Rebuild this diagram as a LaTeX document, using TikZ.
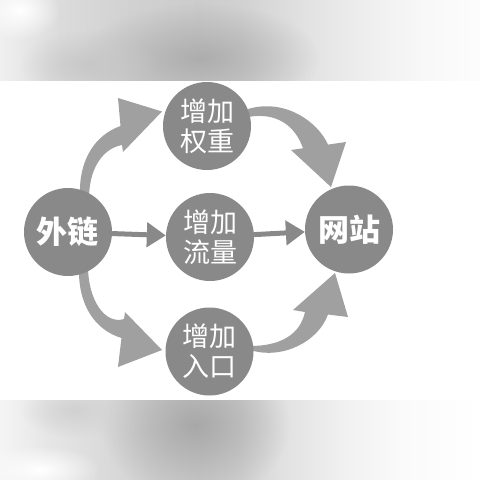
\documentclass[tikz,border=0pt]{standalone}
\usepackage{fontspec}
\newfontfamily\cjk{Noto Sans CJK SC}
\usetikzlibrary{arrows.meta,fadings}
\tikzfading[name=myfade, inner color=transparent!0, outer color=transparent!100]
\definecolor{circ}{RGB}{137,137,137}
\definecolor{arrc}{RGB}{160,160,160}
\tikzset{
  ball/.style={circle, fill=circ, minimum size=88pt, inner sep=0pt, text=white, align=center},
  lighttext/.style={font=\cjk\fontsize{27pt}{30pt}\selectfont},
  heavytext/.style={font=\cjk\bfseries\fontsize{31pt}{31pt}\selectfont},
  straightarrow/.style={draw=circ, line width=5pt, -{Triangle[length=19pt,width=24pt]}},
  swoosh/.style={fill=arrc},
  blob/.style={path fading=myfade}
}
\begin{document}
\begin{tikzpicture}[x=1pt,y=-1pt]
\useasboundingbox (0,0) rectangle (480,480);
\fill[white] (0,0) rectangle (480,480);
% blurred top band
\begin{scope}
\clip (0,0) rectangle (480,80);
\foreach \xa/\xb/\ca/\cb in {0/60/6/14, 60/130/14/18, 130/200/18/20, 200/240/20/18, 240/300/18/12, 300/360/12/7, 360/420/7/3, 420/480.5/3/1}
  {\shade[left color=black!\ca, right color=black!\cb] (\xa-0.3,0) rectangle (\xb,80);}
\fill[black!32, blob] (200,58) ellipse (120 and 55);
\fill[black!22, blob] (90,65) ellipse (70 and 35);
\fill[white, blob] (20,10) ellipse (40 and 30);
\end{scope}
% blurred bottom band
\begin{scope}
\clip (0,400) rectangle (480,480);
\foreach \xa/\xb/\ca/\cb in {0/50/4/10, 50/100/10/14, 100/150/14/18, 150/200/18/20, 200/240/20/18, 240/280/18/12, 280/340/12/6, 340/400/6/2, 400/480.5/2/0}
  {\shade[left color=black!\ca, right color=black!\cb] (\xa-0.3,400) rectangle (\xb,480);}
\fill[black!34, blob] (195,425) ellipse (95 and 75);
\fill[black!18, blob] (75,410) ellipse (55 and 28);
\fill[white, blob] (40,470) ellipse (60 and 25);
\end{scope}
% curved arrows
\fill[swoosh] (80,194) .. controls (79,160) and (95,135) .. (120.5,126) -- (118,98) -- (162,111.5) -- (123,152) -- (122,145) .. controls (105,148) and (90,165) .. (89,196) -- cycle;
\fill[swoosh] (79,268) .. controls (78,305) and (95,330) .. (121.5,338) -- (118,367) -- (162,350) -- (125,312) -- (124,319) .. controls (105,325) and (88,300) .. (88,266) -- cycle;
\fill[swoosh] (248,109) .. controls (285,98) and (318,122) .. (328,144.6) -- (346,142) -- (331,187) -- (291,150) -- (303,148.3) .. controls (295,125) and (276,112) .. (248,117) -- cycle;
\fill[swoosh] (250,350) .. controls (282,360) and (318,342) .. (328,314.5) -- (348,317) -- (335,273) -- (293,310) -- (305,312) .. controls (300,335) and (280,346) .. (250,346) -- cycle;
% circles
\node[ball, heavytext] (wl) at (68,232) {外链};
\node[ball, lighttext] (qz) at (207,126) {增加\\权重};
\node[ball, lighttext] (ll) at (210,237) {增加\\流量};
\node[ball, lighttext] (rk) at (209.5,351.5) {增加\\入口};
\node[ball, heavytext] (wz) at (349,229.5) {网站};
% straight arrows
\draw[straightarrow] (wl) -- (ll);
\draw[straightarrow] (ll) -- (wz);
\end{tikzpicture}
\end{document}
